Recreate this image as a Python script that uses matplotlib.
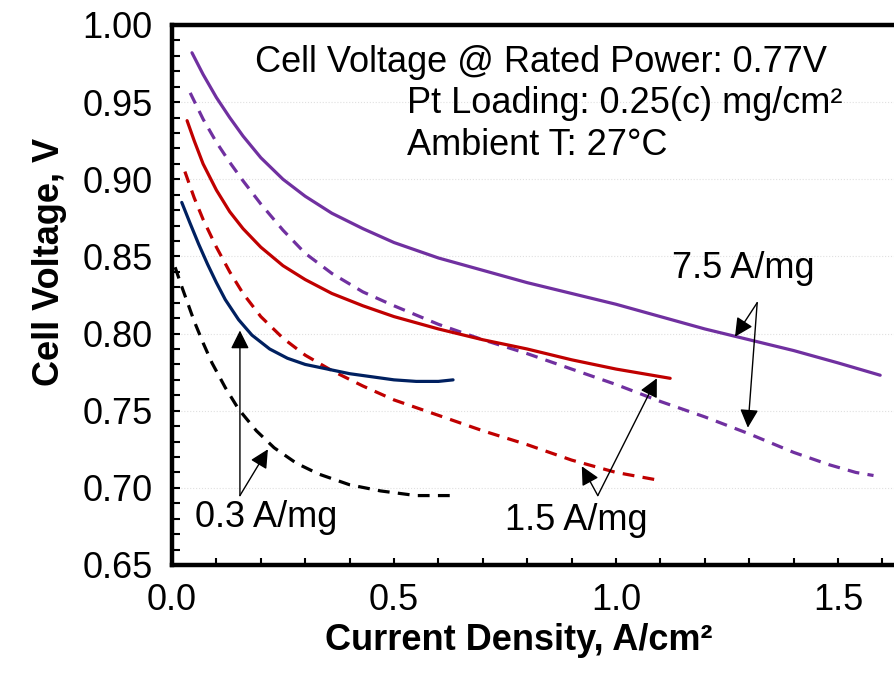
import matplotlib
matplotlib.use("Agg")
import matplotlib.pyplot as plt
from matplotlib.ticker import MultipleLocator, FormatStrFormatter

plt.rcParams['font.family'] = ['Liberation Sans', 'DejaVu Sans']

# Polarization curves: current density (A/cm2) vs cell voltage (V)
hi_solid_x = [0.045, 0.07, 0.10, 0.13, 0.16, 0.20, 0.25, 0.30, 0.36, 0.43, 0.50, 0.60, 0.70,
              0.80, 0.90, 1.00, 1.10, 1.20, 1.30, 1.40, 1.50, 1.595]
hi_solid_y = [0.982, 0.968, 0.953, 0.940, 0.928, 0.914, 0.900, 0.889, 0.878, 0.868, 0.859, 0.849, 0.841,
              0.833, 0.826, 0.819, 0.811, 0.803, 0.796, 0.789, 0.781, 0.773]

hi_dash_x = [0.041, 0.07, 0.10, 0.13, 0.16, 0.20, 0.25, 0.30, 0.36, 0.43, 0.50, 0.60, 0.70, 0.80,
             0.90, 1.00, 1.10, 1.20, 1.30, 1.40, 1.48, 1.54, 1.58]
hi_dash_y = [0.956, 0.939, 0.924, 0.911, 0.899, 0.884, 0.867, 0.852, 0.839, 0.827, 0.818, 0.806, 0.796, 0.787,
             0.777, 0.767, 0.756, 0.746, 0.735, 0.723, 0.715, 0.710, 0.708]

mid_solid_x = [0.034, 0.05, 0.07, 0.10, 0.13, 0.16, 0.20, 0.25, 0.30, 0.36, 0.43, 0.50, 0.60, 0.70,
               0.80, 0.90, 1.00, 1.122]
mid_solid_y = [0.938, 0.925, 0.910, 0.893, 0.879, 0.868, 0.856, 0.844, 0.835, 0.826, 0.818, 0.811, 0.803, 0.796,
               0.790, 0.783, 0.777, 0.771]

mid_dash_x = [0.029, 0.05, 0.07, 0.10, 0.13, 0.16, 0.20, 0.25, 0.30, 0.36, 0.43, 0.50, 0.60, 0.70,
              0.80, 0.90, 1.00, 1.095]
mid_dash_y = [0.905, 0.888, 0.874, 0.856, 0.840, 0.826, 0.811, 0.797, 0.786, 0.776, 0.766, 0.757, 0.747, 0.737,
              0.728, 0.718, 0.710, 0.705]

lo_solid_x = [0.022, 0.04, 0.06, 0.08, 0.10, 0.12, 0.15, 0.18, 0.22, 0.26, 0.30, 0.35, 0.40, 0.45,
              0.50, 0.55, 0.60, 0.633]
lo_solid_y = [0.885, 0.872, 0.858, 0.845, 0.833, 0.822, 0.809, 0.799, 0.790, 0.784, 0.780, 0.777, 0.774, 0.772,
              0.770, 0.769, 0.769, 0.770]

lo_dash_x = [0.007, 0.02, 0.035, 0.05, 0.07, 0.09, 0.12, 0.15, 0.19, 0.23, 0.28, 0.33, 0.40, 0.47, 0.55, 0.633]
lo_dash_y = [0.843, 0.832, 0.820, 0.808, 0.794, 0.781, 0.765, 0.751, 0.737, 0.726, 0.716, 0.709, 0.702, 0.698,
             0.695, 0.695]

x_ticks = [0.0, 0.5, 1.0, 1.5]
y_ticks = [0.65, 0.70, 0.75, 0.80, 0.85, 0.90, 0.95, 1.00]

PURPLE = '#7030A0'
RED = '#C00000'
NAVY = '#002060'

fig = plt.figure(figsize=(8.95, 6.74), dpi=100)
ax = fig.add_axes([172 / 895, 1 - 565 / 674, 1 - 172 / 895, 540 / 674])

lw = 2.3
dash = (3.7, 2.6)
ax.plot(hi_solid_x, hi_solid_y, color=PURPLE, lw=lw, solid_capstyle='round', solid_joinstyle='round')
ax.plot(hi_dash_x, hi_dash_y, color=PURPLE, lw=lw, dashes=dash)
ax.plot(mid_solid_x, mid_solid_y, color=RED, lw=lw, solid_capstyle='round', solid_joinstyle='round')
ax.plot(mid_dash_x, mid_dash_y, color=RED, lw=lw, dashes=dash)
ax.plot(lo_solid_x, lo_solid_y, color=NAVY, lw=lw, solid_capstyle='round', solid_joinstyle='round')
ax.plot(lo_dash_x, lo_dash_y, color='black', lw=lw, dashes=dash)

ax.set_xlim(0, (895 - 172) / 444)
ax.set_ylim(0.65, 1.00)
ax.set_xticks(x_ticks)
ax.xaxis.set_minor_locator(MultipleLocator(0.1))
ax.set_yticks(y_ticks)
ax.yaxis.set_minor_locator(MultipleLocator(0.01))
ax.xaxis.set_major_formatter(FormatStrFormatter('%.1f'))
ax.yaxis.set_major_formatter(FormatStrFormatter('%.2f'))

ax.grid(axis='y', which='major', color='#e0e0e0', lw=0.8, ls=':')
ax.set_axisbelow(True)

ax.tick_params(which='both', direction='in', width=1.5, labelsize=26, color='black')
ax.tick_params(axis='y', which='both', length=6, pad=14)
ax.tick_params(axis='x', which='both', length=5, pad=13)
ax.tick_params(top=False, right=False)

for side in ('left', 'bottom', 'top'):
    ax.spines[side].set_linewidth(3.2)
ax.spines['right'].set_visible(False)

fig.text(50 / 895, 1 - 262 / 674, 'Cell Voltage, V', rotation=90, ha='center', va='center',
         fontsize=26, fontweight='bold')
fig.text(519 / 895, 1 - 640 / 674, 'Current Density, A/cm²', ha='center', va='center',
         fontsize=26, fontweight='bold')

fs = 26
ax.text(0.187, 0.976, 'Cell Voltage @ Rated Power: 0.77V', fontsize=fs, ha='left', va='center')
ax.text(0.529, 0.949, 'Pt Loading: 0.25(c) mg/cm²', fontsize=fs, ha='left', va='center')
ax.text(0.529, 0.9216, 'Ambient T: 27°C', fontsize=fs, ha='left', va='center')

arrow = dict(arrowstyle='-|>', color='black', lw=1.0, mutation_scale=28, shrinkA=0, shrinkB=0)

ax.text(1.126, 0.8425, '7.5 A/mg', fontsize=fs, ha='left', va='center')
ax.annotate('', xy=(1.268, 0.798), xytext=(1.318, 0.820), arrowprops=arrow)
ax.annotate('', xy=(1.297, 0.739), xytext=(1.318, 0.820), arrowprops=arrow)

ax.text(0.75, 0.6786, '1.5 A/mg', fontsize=fs, ha='left', va='center')
ax.annotate('', xy=(1.092, 0.771), xytext=(0.959, 0.695), arrowprops=arrow)
ax.annotate('', xy=(0.923, 0.714), xytext=(0.959, 0.695), arrowprops=arrow)

ax.text(0.052, 0.6805, '0.3 A/mg', fontsize=fs, ha='left', va='center')
ax.annotate('', xy=(0.153, 0.802), xytext=(0.153, 0.695), arrowprops=arrow)
ax.annotate('', xy=(0.216, 0.725), xytext=(0.153, 0.695), arrowprops=arrow)

fig.savefig('out.png', dpi=100)
